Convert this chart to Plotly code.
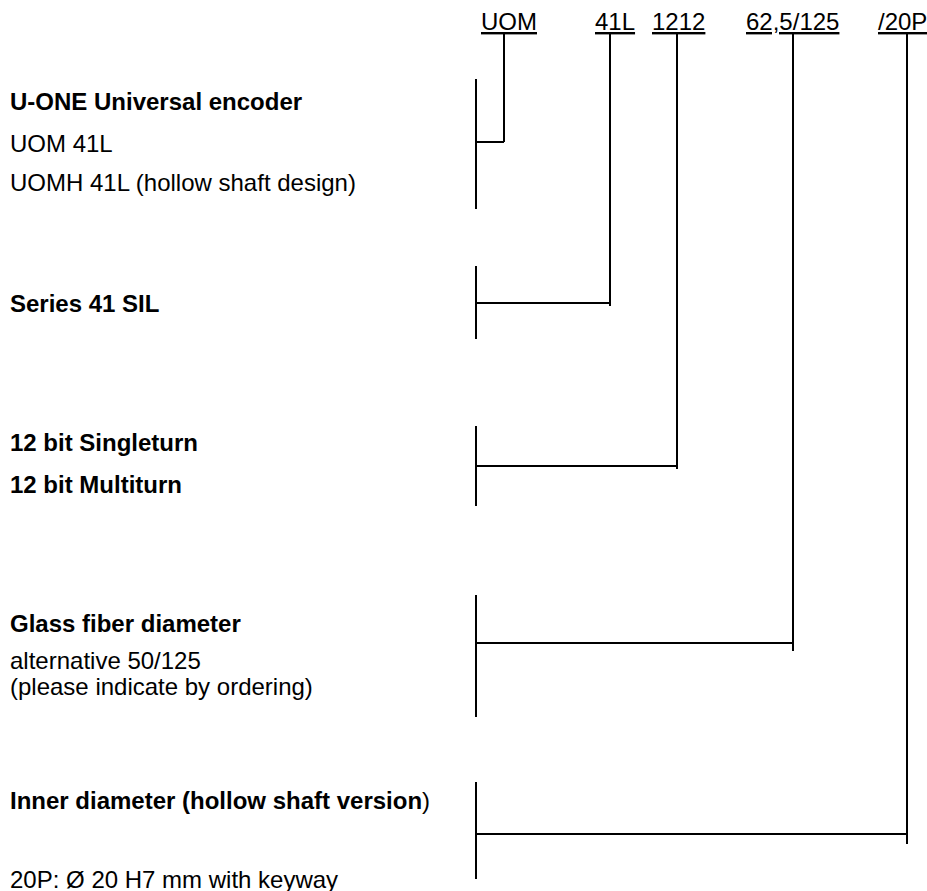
import plotly.graph_objects as go

# ---- content ----
codes = ["UOM", "41L", "1212", "62,5/125", "/20P"]
group_titles = [
    "<b>U-ONE Universal encoder</b>",
    "<b>Series 41 SIL</b>",
    "<b>12 bit Singleturn</b>",
    "<b>Glass fiber diameter</b>",
    "<b>Inner diameter (hollow shaft version</b>)",
]
group_details = [
    ["UOM 41L", "UOMH 41L (hollow shaft design)"],
    [],
    ["<b>12 bit Multiturn</b>"],
    ["alternative 50/125", "(please indicate by ordering)"],
    ["20P: Ø 20 H7 mm with keyway"],
]

# ---- layout (pixel geometry, in window pixels) ----
W, H = 927, 891
FONT = "Liberation Sans, Arial, sans-serif"
FS = 24
TEXT_PAD = 2
code_left = [481, 595, 652, 746, 878]
code_y = 21
underline_y = 32
stem_x = [504, 610, 677, 793, 907]
stem_ext = [0, 3, 3, 8, 10]
bar_x = 476
bar_top = [79, 266, 426, 595, 782]
bar_bot = [209, 339, 506, 717, 879]
join_y = [142, 303, 466, 643, 834]
title_y = [101, 303, 442, 623, 800]
detail_y = [[143, 182], [], [484], [660, 686], [879]]
text_x = 10

fig = go.Figure()
fig.add_trace(go.Scatter(x=[0], y=[0], mode="markers",
                         marker=dict(opacity=0), hoverinfo="skip", showlegend=False))

shapes = []
annotations = []
line = dict(color="black", width=2)
font = dict(family=FONT, size=FS, color="black")

for i, c in enumerate(codes):
    annotations.append(dict(x=code_left[i] - TEXT_PAD, y=code_y, text="<u>" + c + "</u>",
                            xanchor="left", yanchor="middle", showarrow=False, font=font))
    shapes.append(dict(type="line", x0=stem_x[i], x1=stem_x[i],
                       y0=underline_y, y1=join_y[i] + stem_ext[i], line=line))
    shapes.append(dict(type="line", x0=bar_x, x1=bar_x,
                       y0=bar_top[i], y1=bar_bot[i], line=line))
    shapes.append(dict(type="line", x0=bar_x, x1=stem_x[i],
                       y0=join_y[i], y1=join_y[i], line=line))
    annotations.append(dict(x=text_x - TEXT_PAD, y=title_y[i], text=group_titles[i],
                            xanchor="left", yanchor="middle", showarrow=False, font=font))
    for t, yy in zip(group_details[i], detail_y[i]):
        annotations.append(dict(x=text_x - TEXT_PAD, y=yy, text=t,
                                xanchor="left", yanchor="middle", showarrow=False, font=font))

fig.update_layout(
    width=W, height=H,
    margin=dict(l=0, r=0, t=0, b=0),
    paper_bgcolor="white", plot_bgcolor="white",
    xaxis=dict(range=[0, W], visible=False, fixedrange=True),
    yaxis=dict(range=[H, 0], visible=False, fixedrange=True),
    shapes=shapes, annotations=annotations, showlegend=False,
)

fig.write_html(
    "out.html",
    config={"displayModeBar": False},
    post_script="document.body.style.margin='0';document.body.style.overflow='hidden';",
)
